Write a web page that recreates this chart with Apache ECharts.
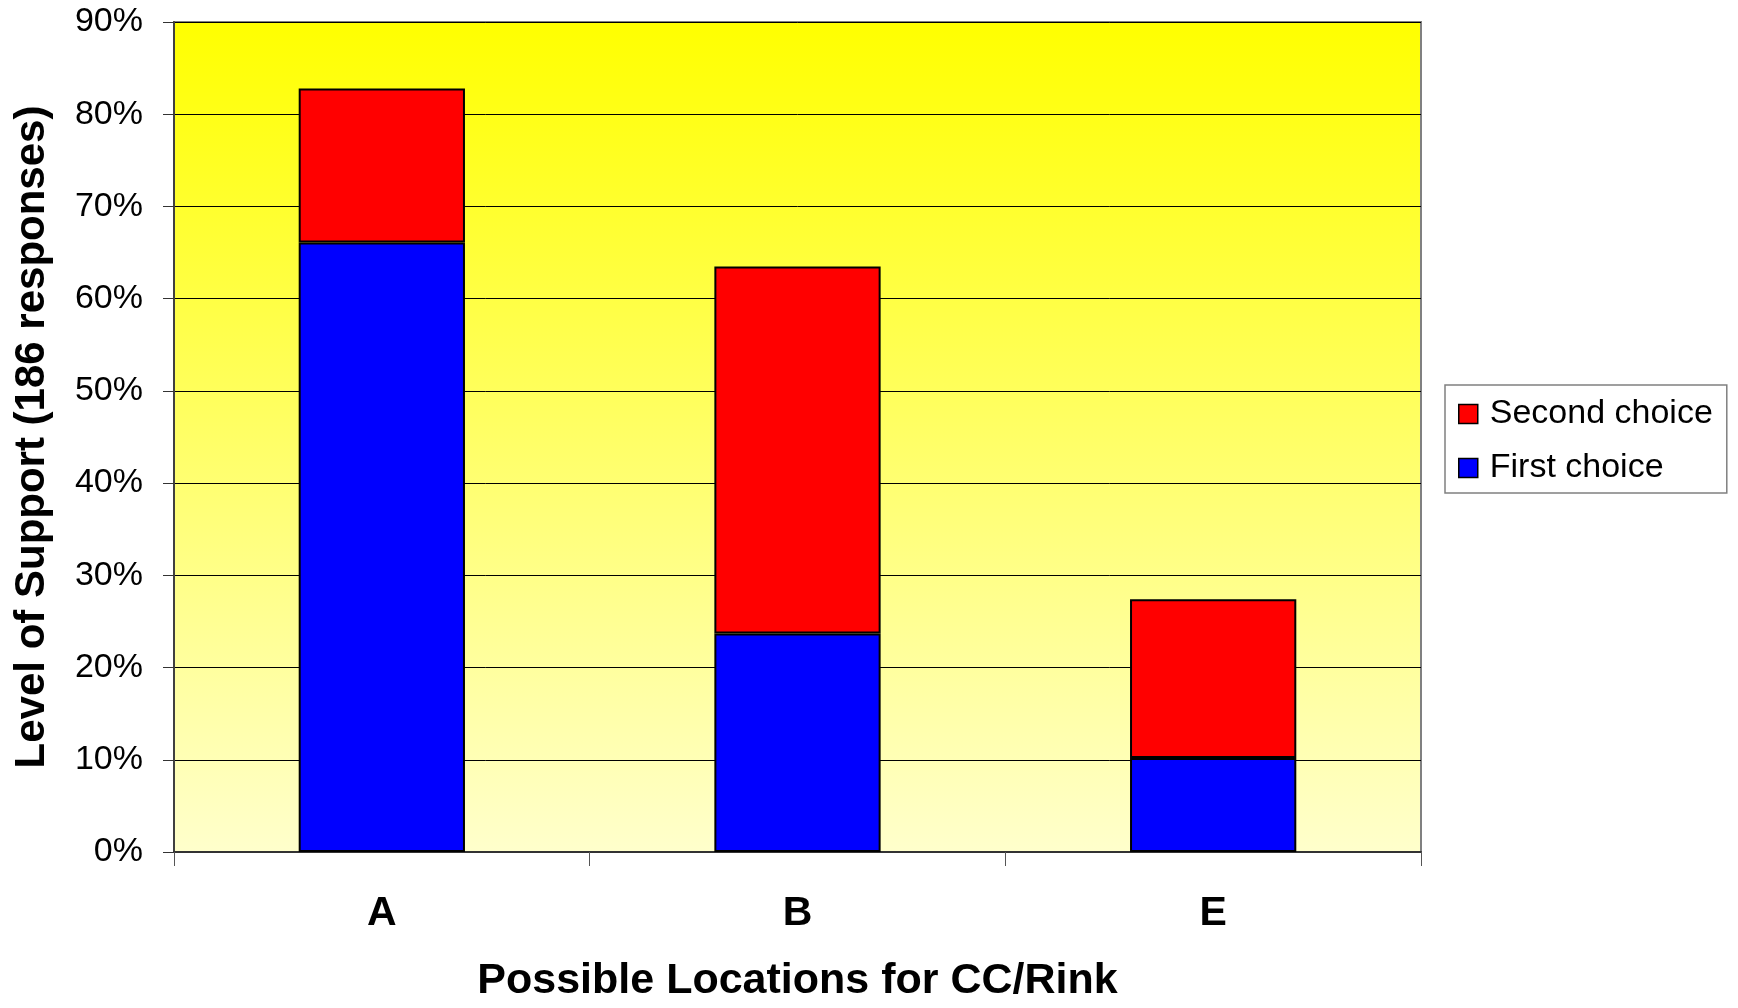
<!DOCTYPE html>
<html>
<head>
<meta charset="utf-8">
<script src="https://cdn.jsdelivr.net/npm/echarts@6/dist/echarts.min.js"></script>
<style>html,body{margin:0;padding:0;background:#fff;}#c{width:1738px;height:1008px;}</style>
</head>
<body>
<div id="c"></div>
<script>
var categories = ['A', 'B', 'E'];
var firstChoice = [66.1, 23.7, 10.2];
var secondChoice = [16.7, 39.8, 17.2];
var yTicks = { min: 0, max: 90, interval: 10 };

var FONT = 'Liberation Sans, Arial, sans-serif';
var chart = echarts.init(document.getElementById('c'), null, { renderer: 'canvas' });
chart.setOption({
  animation: false,
  backgroundColor: '#ffffff',
  textStyle: { fontFamily: FONT },
  grid: {
    left: 174, right: 317, top: 22, bottom: 150,
    show: true,
    borderColor: '#808080', borderWidth: 2,
    backgroundColor: {
      type: 'linear', x: 0, y: 0, x2: 0, y2: 1,
      colorStops: [{ offset: 0, color: '#ffff00' }, { offset: 1, color: '#ffffcc' }]
    }
  },
  legend: {
    orient: 'vertical',
    left: 1445, top: 385,
    width: 286,
    padding: [12, 14, 8, 13],
    borderColor: '#808080', borderWidth: 1.5,
    backgroundColor: '#ffffff',
    itemWidth: 19, itemHeight: 19, itemGap: 20,
    icon: 'rect',
    itemStyle: { borderColor: '#000', borderWidth: 1.5 },
    textStyle: { fontSize: 34, lineHeight: 34, color: '#000', fontFamily: FONT, padding: [0, 0, 0, 7] },
    data: ['Second choice', 'First choice']
  },
  xAxis: {
    type: 'category',
    data: categories,
    boundaryGap: true,
    axisLine: { show: true, lineStyle: { color: '#333', width: 2 } },
    axisTick: { show: true, alignWithLabel: false, length: 14, lineStyle: { color: '#555', width: 1 } },
    axisLabel: { fontSize: 41, fontWeight: 'bold', color: '#000', margin: 41 },
    name: 'Possible Locations for CC/Rink',
    nameLocation: 'middle',
    nameGap: 108,
    nameTextStyle: { fontSize: 43, fontWeight: 'bold', color: '#000' }
  },
  yAxis: {
    type: 'value',
    min: yTicks.min, max: yTicks.max, interval: yTicks.interval,
    axisLine: { show: true, lineStyle: { color: '#404040', width: 2 } },
    axisTick: { show: true, length: 11, lineStyle: { color: '#333', width: 1 } },
    axisLabel: { fontSize: 34, color: '#000', margin: 31, formatter: '{value}%' },
    splitLine: { show: true, lineStyle: { color: '#000', width: 1 } },
    name: 'Level of Support (186 responses)',
    nameLocation: 'middle',
    nameGap: 121,
    nameTextStyle: { fontSize: 42, fontWeight: 'bold', color: '#000' }
  },
  series: [
    {
      name: 'First choice', type: 'bar', stack: 'total',
      data: firstChoice, barWidth: '40%',
      itemStyle: { color: '#0000ff', borderColor: '#000', borderWidth: 2 }
    },
    {
      name: 'Second choice', type: 'bar', stack: 'total',
      data: secondChoice, barWidth: '40%',
      itemStyle: { color: '#ff0000', borderColor: '#000', borderWidth: 2 }
    }
  ]
});
</script>
</body>
</html>
